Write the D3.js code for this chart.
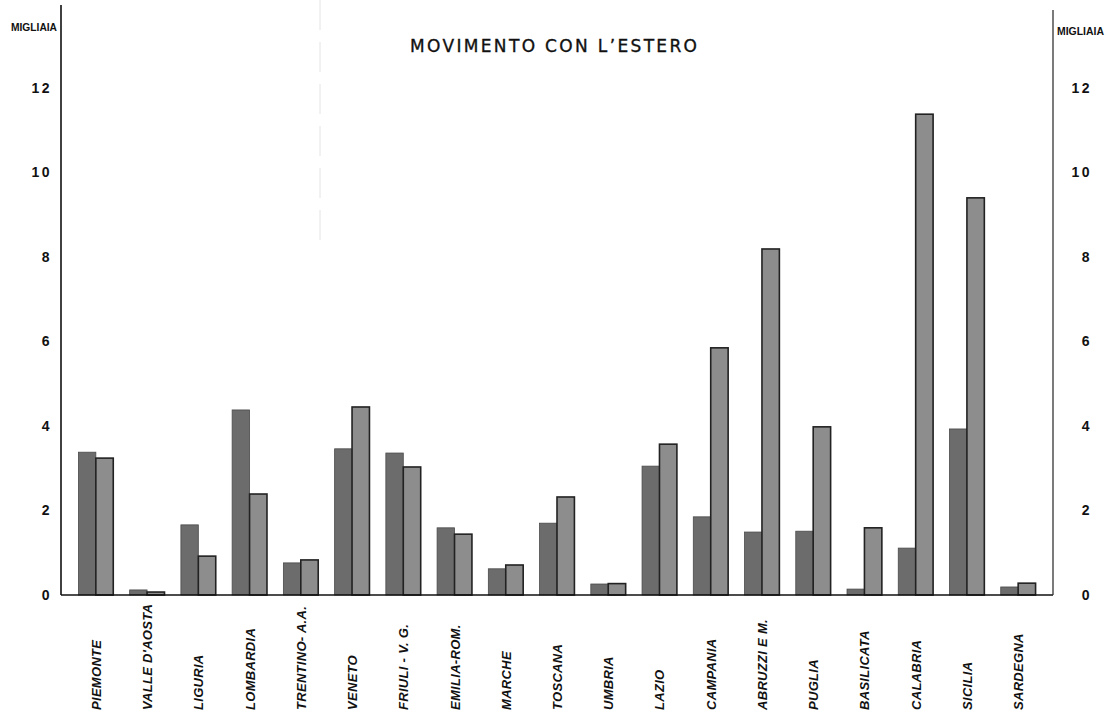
<!DOCTYPE html>
<html>
<head>
<meta charset="utf-8">
<script src="https://cdn.jsdelivr.net/npm/d3@7"></script>
<style>
  html, body { margin: 0; padding: 0; background: #ffffff; }
  svg { display: block; }
</style>
</head>
<body>
<svg id="chart" width="1108" height="717"></svg>
<script>
const regions = ["PIEMONTE", "VALLE D'AOSTA", "LIGURIA", "LOMBARDIA", "TRENTINO- A.A.", "VENETO",
  "FRIULI - V. G.", "EMILIA-ROM.", "MARCHE", "TOSCANA", "UMBRIA", "LAZIO", "CAMPANIA",
  "ABRUZZI E M.", "PUGLIA", "BASILICATA", "CALABRIA", "SICILIA", "SARDEGNA"];
const seriesKeys = ["a", "b"];
const seriesA = [3.38, 0.12, 1.66, 4.38, 0.76, 3.46, 3.36, 1.59, 0.62, 1.70, 0.26, 3.05, 1.85, 1.49, 1.51, 0.14, 1.11, 3.93, 0.19];
const seriesB = [3.24, 0.07, 0.92, 2.39, 0.83, 4.45, 3.03, 1.44, 0.71, 2.32, 0.27, 3.57, 5.85, 8.19, 3.98, 1.59, 11.38, 9.40, 0.28];
const yTicks = [0, 2, 4, 6, 8, 10, 12];
const title = "MOVIMENTO CON L\u2019ESTERO";
const unitLabel = "MIGLIAIA";

const svg = d3.select("#chart");
const left = 61, right = 1053;

const x = d3.scaleBand().domain(regions).range([left, right]).paddingInner(0.32).paddingOuter(0.34);
const xs = d3.scaleBand().domain(seriesKeys).range([0, x.bandwidth()]);
const y = d3.scaleLinear().domain([0, 12]).range([595, 88]);

const colors = { a: "#6c6c6c", b: "#8d8d8d" };

// faint fold mark from the scan
svg.append("line").attr("x1", 320).attr("x2", 320).attr("y1", 0).attr("y2", 250)
  .attr("stroke", "#e4e4e4").attr("stroke-width", 1).attr("stroke-dasharray", "30,12");

// title
svg.append("text").attr("x", 410).attr("y", 52)
  .attr("font-family", "DejaVu Sans, sans-serif").attr("font-size", 17)
  .attr("textLength", 287).attr("lengthAdjust", "spacing")
  .attr("stroke", "#111").attr("stroke-width", 0.35)
  .attr("fill", "#111").text(title);

// bars
const rows = regions.map((r, i) => ({ region: r, a: seriesA[i], b: seriesB[i] }));
const groups = svg.append("g").selectAll("g").data(rows).join("g")
  .attr("transform", d => `translate(${x(d.region)},0)`);

groups.selectAll("rect").data(d => seriesKeys.map(k => ({ key: k, value: d[k] }))).join("rect")
  .attr("x", d => xs(d.key))
  .attr("width", xs.bandwidth())
  .attr("y", d => y(d.value))
  .attr("height", d => y(0) - y(d.value))
  .attr("fill", d => colors[d.key])
  .attr("stroke", d => d.key === "b" ? "#222" : "#4a4a4a")
  .attr("stroke-width", d => d.key === "b" ? 1.6 : 0.8);

// baseline
svg.append("line").attr("x1", left).attr("x2", right).attr("y1", y(0)).attr("y2", y(0))
  .attr("stroke", "#111").attr("stroke-width", 1.6);

// axis lines
svg.append("line").attr("x1", left).attr("x2", left).attr("y1", 5).attr("y2", y(0))
  .attr("stroke", "#111").attr("stroke-width", 1.6);
svg.append("line").attr("x1", right).attr("x2", right).attr("y1", 10).attr("y2", y(0))
  .attr("stroke", "#333").attr("stroke-width", 1.3);

// left axis
const gl = svg.append("g").attr("transform", `translate(${left},0)`)
  .call(d3.axisLeft(y).tickValues(yTicks).tickSize(0).tickPadding(9).tickFormat(d3.format("d")));
gl.select(".domain").remove();
gl.selectAll("text").attr("font-family", "Liberation Sans, Arial, sans-serif")
  .attr("font-weight", "bold").attr("font-size", 14).attr("letter-spacing", "2.5px").attr("fill", "#111");

// right axis
const gr = svg.append("g").attr("transform", `translate(${right},0)`)
  .call(d3.axisRight(y).tickValues(yTicks).tickSize(0).tickPadding(17).tickFormat(d3.format("d")));
gr.select(".domain").remove();
gr.selectAll("text").attr("text-anchor", "end").attr("x", 39)
  .attr("font-family", "Liberation Sans, Arial, sans-serif")
  .attr("font-weight", "bold").attr("font-size", 14).attr("letter-spacing", "2.5px").attr("fill", "#111");

// unit labels
svg.append("text").attr("x", 11).attr("y", 31).attr("textLength", 46).attr("lengthAdjust", "spacingAndGlyphs")
  .attr("font-family", "Liberation Sans, Arial, sans-serif").attr("font-weight", "bold")
  .attr("font-size", 11).attr("fill", "#111").text(unitLabel);
svg.append("text").attr("x", 1057).attr("y", 35).attr("textLength", 47).attr("lengthAdjust", "spacingAndGlyphs")
  .attr("font-family", "Liberation Sans, Arial, sans-serif").attr("font-weight", "bold")
  .attr("font-size", 11).attr("fill", "#111").text(unitLabel);

// category labels
svg.append("g").selectAll("text").data(regions).join("text")
  .attr("transform", d => `translate(${x(d) + x.bandwidth() / 2 + 5},710) rotate(-90)`)
  .attr("text-anchor", "start")
  .attr("font-family", "Liberation Sans, Arial, sans-serif")
  .attr("font-style", "italic").attr("font-weight", "bold").attr("font-size", 13)
  .attr("letter-spacing", "0.3px")
  .attr("fill", "#111").text(d => d);
</script>
</body>
</html>
